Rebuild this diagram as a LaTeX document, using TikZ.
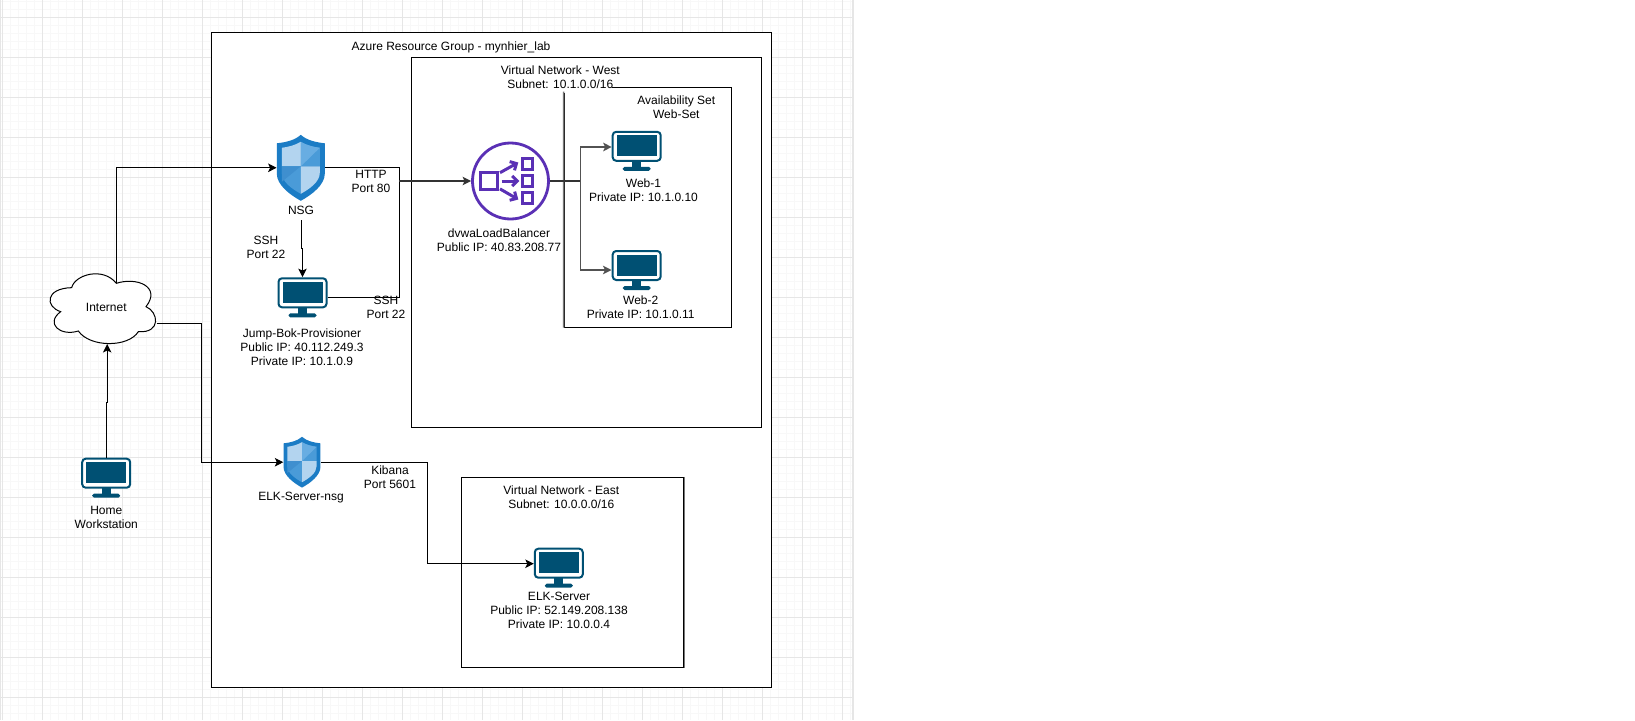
\documentclass[tikz,border=0pt]{standalone}
\usepackage{fontspec}
\setmainfont{Liberation Sans}
\usetikzlibrary{arrows.meta,calc}
\definecolor{gridminor}{HTML}{F8F8F8}
\definecolor{gridmajor}{HTML}{E6E6E6}
\definecolor{monitorblue}{HTML}{005073}
\definecolor{lbpurple}{HTML}{5A30B5}
\definecolor{shieldedge}{HTML}{1B7CC5}
\definecolor{shieldlight}{HTML}{B3D4EF}
\definecolor{shieldmid}{HTML}{4A9BD8}
\definecolor{shieldtop}{HTML}{68ADE2}
\definecolor{shielddark}{HTML}{3F8FCF}
\definecolor{busgrey}{HTML}{333333}
\definecolor{edgegrey}{HTML}{777777}
\tikzset{
  x=1pt,y=-1pt,
  frame/.style={draw=black,line width=1pt,fill=white,inner sep=0pt,rectangle},
  lbl/.style={inner sep=0pt,align=center,text=black,font=\fontsize{12}{14}\selectfont},
  iconbox/.style={inner sep=0pt,rectangle},
  conn/.style={draw=black,line width=1pt},
  arrowed/.style={-{Stealth[length=8.5pt,width=8.5pt,inset=2pt]}},
  bus/.style={draw=busgrey,line width=1.6pt},
  branch/.style={draw=black!68,line width=1.5pt}
}
% monitor icon: name, centre x, centre y (50 x 40)
\newcommand{\monitoricon}[3]{%
  \node[iconbox,minimum width=50pt,minimum height=40pt] (#1) at (#2,#3) {};
  \begin{scope}[shift={(#2-25,#3-20)}]
    \draw[monitorblue,line width=2pt,fill=white,rounded corners=3.5pt] (1,1) rectangle (49,30);
    \fill[monitorblue] (5,4.5) rectangle (45,25.5);
    \fill[monitorblue] (20.5,30) rectangle (29.5,36.5);
    \fill[monitorblue,rounded corners=1.8pt] (11,36) rectangle (39,40);
  \end{scope}}
% shield icon: name, centre x, centre y, scale (48 x 66 at scale 1)
\newcommand{\shieldicon}[4]{%
  \node[iconbox,minimum width=#4*48pt,minimum height=#4*66pt] (#1) at (#2,#3) {};
  \begin{scope}[shift={(#2,#3)},scale=#4]
    \fill[shieldedge] (0,-33) .. controls (-6,-27.5) and (-15,-25.5) .. (-24,-24.5)
      -- (-24,6) .. controls (-24,17) and (-11,27) .. (0,33)
      .. controls (11,27) and (24,17) .. (24,6) -- (24,-24.5)
      .. controls (15,-25.5) and (6,-27.5) .. (0,-33) -- cycle;
    \fill[shieldlight] (0,-26) .. controls (-6,-22.5) and (-12,-21) .. (-19,-20)
      -- (-19,-1.5) -- (0,-1.5) -- cycle;
    \fill[shieldmid] (0,-26) .. controls (6,-22.5) and (12,-21) .. (19,-20)
      -- (19,-1.5) -- (0,-1.5) -- cycle;
    \fill[shieldtop] (0,-26) .. controls (6,-22.5) and (12,-21) .. (19,-20) -- (0,-1.5) -- cycle;
    \fill[shieldmid] (-19,-1.5) -- (0,-1.5) -- (0,26) .. controls (-9,21) and (-19,14) .. (-19,5) -- cycle;
    \fill[shielddark] (-19,-1.5) -- (0,-1.5) -- (-19,14) -- cycle;
    \fill[shieldlight] (19,-1.5) -- (0,-1.5) -- (0,26) .. controls (9,21) and (19,14) .. (19,5) -- cycle;
  \end{scope}}
\begin{document}
\begin{tikzpicture}
\useasboundingbox (0,0) rectangle (1635,720);
\fill[white] (0,0) rectangle (1635,720);
% grid
\foreach \gx in {2,10,...,850} {\draw[gridminor,line width=0.8pt] (\gx,0) -- (\gx,720);}
\foreach \gy in {1,9,...,720} {\draw[gridminor,line width=0.8pt] (0,\gy) -- (852,\gy);}
\foreach \gx in {2,42,...,850} {\draw[gridmajor,line width=0.8pt] (\gx,0) -- (\gx,720);}
\foreach \gy in {17,57,...,720} {\draw[gridmajor,line width=0.8pt] (0,\gy) -- (852,\gy);}
\draw[gridmajor,line width=2pt] (852.5,0) -- (852.5,720);
\draw[gridmajor,line width=1.5pt] (0.7,0) -- (0.7,720);
% frames
\node[frame,minimum width=560pt,minimum height=655pt] (group) at (491.6,360.1) {};
\node[frame,minimum width=350.2pt,minimum height=369.8pt] (west) at (586.6,242.4) {};
\node[frame,minimum width=167.7pt,minimum height=239.7pt] (avail) at (647.9,207.2) {};
\node[frame,minimum width=222.7pt,minimum height=190pt] (east) at (572.6,572.3) {};
\fill[white] (512,64) rectangle (611.5,92.7);
\draw[edgegrey,line width=1.6pt] (avail.south west) -- ($(avail.south west)!0.98!(avail.north west)$);
\draw[edgegrey,line width=1.4pt] (east.north east) -- (east.south east);
% cloud
\begin{scope}[shift={(40,265)},x=0.33333pt,y=-0.33333pt]
  \draw[black,line width=1pt,fill=white]
    (95,68) .. controls (105,28) and (190,5) .. (229,55)
    .. controls (290,35) and (365,65) .. (318,125)
    .. controls (355,140) and (365,205) .. (295,200)
    .. controls (265,248) and (150,248) .. (115,198)
    .. controls (60,215) and (15,175) .. (62,140)
    .. controls (15,125) and (15,70) .. (95,68) -- cycle;
\end{scope}
\node[lbl] (internet) at (106.3,307.3) {Internet};
\coordinate (cloudtop) at (116.5,283.3);
\coordinate (cloudright) at (156.7,323.3);
\coordinate (cloudbottom) at (107.2,344);
% icons
\shieldicon{nsg}{300.8}{167.8}{1}
\shieldicon{elknsg}{302}{462.2}{0.77}
\monitoricon{jump}{302.5}{297.3}
\monitoricon{web1}{636.7}{150.8}
\monitoricon{web2}{636.7}{270}
\monitoricon{elk}{558.8}{567.7}
\monitoricon{home}{106.2}{477.7}
% load balancer
\node[circle,draw=lbpurple,line width=2.8pt,fill=white,inner sep=0pt,minimum size=76pt] (lb) at (510.5,181) {};
\begin{scope}[lbpurple,line width=3pt]
  \draw (480,172.7) rectangle (497.3,189.3);
  \draw (522,158.7) rectangle (532.7,169.3);
  \draw (522,175.3) rectangle (532.7,186);
  \draw (522,192.7) rectangle (532.7,203.3);
  \draw[-{Straight Barb[length=5pt,width=10pt]}] (500,172.7) -- (518.3,162.5);
  \draw[-{Straight Barb[length=5pt,width=10pt]}] (501.5,181) -- (519.3,181);
  \draw[-{Straight Barb[length=5pt,width=10pt]}] (500,188.9) -- (518.3,199.5);
\end{scope}
% waypoints
\coordinate (busjoin) at (399.2,181);
\coordinate (split) at (580.3,181);
\coordinate (web1in) at (611.7,147);
\coordinate (elkin) at (533.8,563.7);
\coordinate (elkbend) at (427.3,563.7);
\coordinate (cloudbend) at (201.5,323.3);
\coordinate (nsgout) at (301.7,220);
\coordinate (nsgjog) at (301.7,248);
\coordinate (nsgjog2) at (302.5,248);
\coordinate (homejog) at (106.2,402);
\coordinate (homejog2) at (107.2,402);
% connectors
\draw[conn,arrowed] (cloudtop) |- (nsg.west);
\draw[conn] (nsg.east) -| (busjoin);
\draw[conn] (jump.east) -| (busjoin);
\draw[bus,arrowed] (busjoin) -- (lb.west);
\draw[conn,arrowed] (nsgout) -- (nsgjog) -- (nsgjog2) -- (jump.north);
\draw[bus] (lb.east) -- (split);
\draw[branch,arrowed] (split) |- (web1in);
\draw[branch,arrowed] (split) |- (web2.west);
\draw[conn] (cloudright) -- (cloudbend);
\draw[conn,arrowed] (cloudbend) |- (elknsg.west);
\draw[conn] (elknsg.east) -| (elkbend);
\draw[conn,arrowed] (elkbend) -- (elkin);
\draw[conn,arrowed] (home.north) -- (homejog) -- (homejog2) -- (cloudbottom);
% labels
\node[lbl] (grouplabel) at (451,47.7) {Azure Resource Group - mynhier\_lab};
\node[lbl] (westlabel) at (560.3,77.7) {Virtual Network - West\\Subnet: 10.1.0.0/16};
\node[lbl] (availlabel) at (676.3,107.7) {Availability Set\\Web-Set};
\node[lbl] (nsglabel) at (301,210) {NSG};
\node[lbl] (httplabel) at (371,181.3) {HTTP\\Port 80};
\node[lbl] (sshlabel) at (266,247.7) {SSH\\Port 22};
\node[lbl] (ssh2label) at (386,307.7) {SSH\\Port 22};
\node[lbl] (jumplabel) at (302,347.7) {Jump-Bok-Provisioner\\Public IP: 40.112.249.3\\Private IP: 10.1.0.9};
\node[lbl] (lblabel) at (499,240.7) {dvwaLoadBalancer\\Public IP: 40.83.208.77};
\node[lbl] (web1label) at (643.5,190.7) {Web-1\\Private IP: 10.1.0.10};
\node[lbl] (web2label) at (640.7,307.3) {Web-2\\Private IP: 10.1.0.11};
\node[lbl] (homelabel) at (106.3,517.7) {Home\\Workstation};
\node[lbl] (elknsglabel) at (301,497.7) {ELK-Server-nsg};
\node[lbl] (kibanalabel) at (390,477.7) {Kibana\\Port 5601};
\node[lbl] (eastlabel) at (561.3,497.7) {Virtual Network - East\\Subnet: 10.0.0.0/16};
\node[lbl] (elklabel) at (559,610.7) {ELK-Server\\Public IP: 52.149.208.138\\Private IP: 10.0.0.4};
\end{tikzpicture}
\end{document}
